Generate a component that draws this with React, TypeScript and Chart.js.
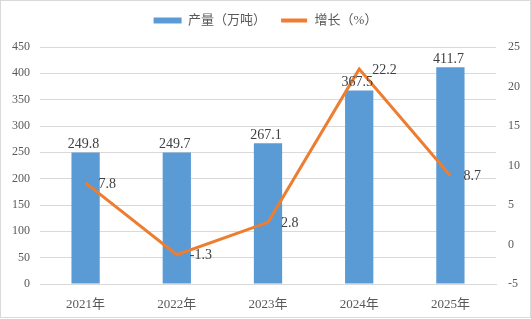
import React, { useEffect, useRef } from "react";
import { Chart, registerables } from "chart.js";

Chart.register(...registerables);

const categories = ["2021年", "2022年", "2023年", "2024年", "2025年"];
const output = [249.8, 249.7, 267.1, 367.5, 411.7];
const growth = [7.8, -1.3, 2.8, 22.2, 8.7];
const outputLabel = "产量（万吨）";
const growthLabel = "增长（%）";

const FONT = "'Liberation Serif', 'Noto Sans CJK SC', serif";
const TEXT = "#595959";

export default function App() {
  const ref = useRef<HTMLCanvasElement | null>(null);
  useEffect(() => {
    if (!ref.current) return;
    const labelsPlugin = {
      id: "labels",
      afterDatasetsDraw(chart: any) {
        const ctx = chart.ctx;
        ctx.save();
        ctx.font = `14px ${FONT}`;
        ctx.fillStyle = "#404040";
        const barMeta = chart.getDatasetMeta(0);
        barMeta.data.forEach((el: any, i: number) => {
          ctx.textAlign = "center";
          ctx.textBaseline = "bottom";
          ctx.fillText(output[i].toFixed(1), el.x - 2, el.y - 1);
        });
        const lineMeta = chart.getDatasetMeta(1);
        lineMeta.data.forEach((el: any, i: number) => {
          ctx.textAlign = "left";
          ctx.textBaseline = "middle";
          ctx.fillText(growth[i].toFixed(1), el.x + 13, el.y + 1);
        });
        ctx.restore();
      },
      afterDraw(chart: any) {
        const ctx = chart.ctx;
        ctx.save();
        ctx.strokeStyle = "#d9d9d9";
        ctx.lineWidth = 1;
        ctx.strokeRect(0.5, 0.5, chart.width - 1, chart.height - 2);
        ctx.restore();
      },
    };
    const chart = new Chart(ref.current, {
      type: "bar",
      data: {
        labels: categories,
        datasets: [
          {
            type: "bar",
            label: outputLabel,
            data: output,
            backgroundColor: "#5B9BD5",
            borderColor: "#5B9BD5",
            yAxisID: "y",
            barPercentage: 0.31,
            categoryPercentage: 1,
            order: 2,
          },
          {
            type: "line",
            label: growthLabel,
            data: growth,
            borderColor: "#ED7D31",
            backgroundColor: "#ED7D31",
            borderWidth: 3,
            pointRadius: 0,
            tension: 0,
            yAxisID: "y1",
            order: 1,
          } as any,
        ],
      },
      options: {
        animation: false,
        responsive: false,
        plugins: {
          legend: {
            display: true,
            position: "top",
            labels: {
              boxWidth: 28,
              boxHeight: 6,
              color: TEXT,
              font: { size: 13, family: FONT },
              padding: 14,
              sort: (a: any, b: any) => a.datasetIndex - b.datasetIndex,
              generateLabels: (c: any) => {
                const items = Chart.defaults.plugins.legend.labels.generateLabels(c);
                return items.map((it: any) => {
                  if (it.datasetIndex === 1) {
                    return { ...it, strokeStyle: "#ffffff", lineWidth: 2, fillStyle: "#ED7D31" };
                  }
                  return { ...it, lineWidth: 0, strokeStyle: "#5B9BD5" };
                });
              },
            },
          } as any,
          tooltip: { enabled: false },
        },
        scales: {
          x: {
            grid: { display: false },
            border: { display: true, color: "#d9d9d9" },
            ticks: { color: TEXT, font: { size: 13, family: FONT }, padding: 5 },
            afterFit(scale: any) {
              scale.height = 35;
            },
          },
          y: {
            position: "left",
            min: 0,
            max: 450,
            ticks: { stepSize: 50, color: TEXT, font: { size: 12, family: FONT }, padding: 10 },
            grid: { color: "#d9d9d9", drawTicks: false },
            border: { display: false },
            afterFit(scale: any) {
              scale.width = 40;
            },
          },
          y1: {
            position: "right",
            min: -5,
            max: 25,
            ticks: { stepSize: 5, color: TEXT, font: { size: 12, family: FONT }, padding: 12 },
            grid: { display: false, drawTicks: false },
            border: { display: false },
            afterFit(scale: any) {
              scale.width = 35;
            },
          },
        },
      },
      plugins: [labelsPlugin],
    });
    const legend: any = (chart as any).legend;
    if (legend) {
      const origFit = legend.fit.bind(legend);
      legend.fit = function () {
        origFit();
        this.height = 47;
      };
      chart.update();
    }
    return () => chart.destroy();
  }, []);
  return (
    <div style={{ position: "absolute", left: 0, top: 0, width: 531, height: 319, background: "#fff" }}>
      <canvas ref={ref} width={531} height={319} style={{ width: 531, height: 319 }} />
    </div>
  );
}
